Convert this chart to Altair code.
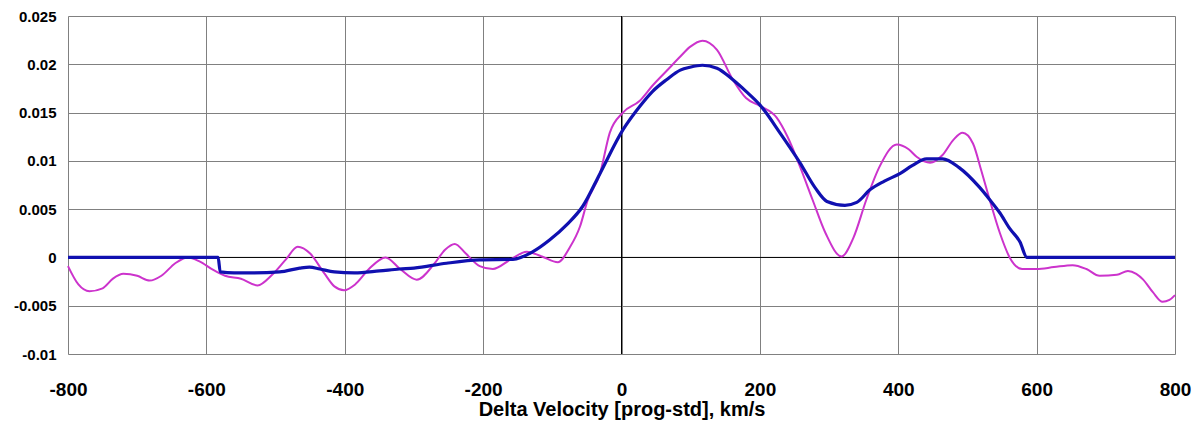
import altair as alt
import pandas as pd

# Magenta (measured) series
mag_x = [-800, -785, -769, -750, -735, -720, -700, -682, -665, -645, -627, -610, -590, -573,
         -550, -526, -505, -485, -468, -450, -430, -415, -401, -385, -365, -341, -320, -296,
         -270, -255, -241, -225, -205, -186, -160, -137, -115, -92, -75, -60, -49, -31, -17,
         2, 26, 45, 65, 85, 99, 117, 138, 161, 180, 200, 224, 240, 258, 276, 295, 318, 335,
         354, 373, 398, 415, 427, 446, 464, 480, 493, 508, 520, 532, 547, 561, 579, 600, 625,
         652, 672, 691, 716, 732, 744, 754, 768, 782, 792, 800]
mag_y = [-0.0009, -0.0028, -0.0035, -0.0032, -0.0022, -0.0017, -0.0019, -0.0024, -0.0019,
         -0.0006, 0.0000, -0.0004, -0.0013, -0.0019, -0.0022, -0.0029, -0.0018, -0.0002,
         0.0011, 0.0004, -0.0016, -0.0030, -0.0034, -0.0028, -0.0012, 0.0000, -0.0012,
         -0.0023, -0.0006, 0.0008, 0.0014, 0.0004, -0.0009, -0.0012, -0.0002, 0.0006,
         0.0001, -0.0005, 0.0010, 0.0032, 0.0059, 0.0087, 0.0129, 0.0150, 0.0162, 0.0178,
         0.0193, 0.0208, 0.0218, 0.02245, 0.0215, 0.0184, 0.0165, 0.0157, 0.0145, 0.0125,
         0.0094, 0.0060, 0.0025, 0.0001, 0.0020, 0.0060, 0.0094, 0.0117, 0.0112, 0.0104,
         0.0098, 0.0106, 0.0122, 0.0129, 0.0118, 0.0090, 0.0060, 0.0025, 0.0000, -0.0012,
         -0.0012, -0.0010, -0.0008, -0.0012, -0.0019, -0.0018, -0.0014, -0.0017, -0.0023,
         -0.0036, -0.0046, -0.0044, -0.0039]

# Blue (fitted) series
blue_x = [-800, -583, -580, -560, -537, -494, -465, -451, -436, -415, -386, -350, -321, -300,
          -253, -205, -157, -128, -104, -79, -56, -31, 2, 26, 45, 65, 85, 99, 117, 138, 161,
          180, 200, 230, 258, 280, 297, 323, 340, 359, 380, 403, 420, 441, 464, 488, 517, 532,
          547, 561, 576, 586, 800]
blue_y = [0.0, 0.0, -0.0015, -0.0016, -0.0016, -0.0015, -0.0011, -0.0010, -0.0012, -0.0015,
          -0.0016, -0.0014, -0.0012, -0.0011, -0.0006, -0.00026, -0.0002, 0.0006, 0.0018,
          0.0034, 0.0053, 0.0087, 0.0132, 0.0156, 0.0172, 0.0184, 0.0194, 0.0197, 0.0199,
          0.0196, 0.0184, 0.0172, 0.0158, 0.0128, 0.0098, 0.0072, 0.0058, 0.0054, 0.0057,
          0.0070, 0.0079, 0.0087, 0.0095, 0.0102, 0.0102, 0.0093, 0.0073, 0.0060, 0.0046,
          0.0030, 0.0016, 0.0, 0.0]

x_ticks = [-800, -600, -400, -200, 0, 200, 400, 600, 800]
y_ticks = [-0.01, -0.005, 0, 0.005, 0.01, 0.015, 0.02, 0.025]

mag = pd.DataFrame({"v": mag_x, "y": mag_y})
blue = pd.DataFrame({"v": blue_x, "y": blue_y})

FONT = "Liberation Sans"

xs = alt.Scale(domain=[-800, 800], nice=False, zero=False)
ys = alt.Scale(domain=[-0.01, 0.025], nice=False, zero=False)

x_axis = alt.Axis(values=x_ticks, title="Delta Velocity [prog-std], km/s",
                  labelExpr="(datum.value < 0 ? '-' : '') + format(abs(datum.value), 'd')",
                  grid=True, gridColor="#808080", gridWidth=1, gridOpacity=1,
                  domain=False, ticks=False, labelFont=FONT, labelFontSize=19,
                  labelFontWeight="bold", labelColor="black", labelBaseline="middle",
                  labelPadding=35, labelFlush=False,
                  titleFont=FONT, titleFontSize=20, titleFontWeight="bold",
                  titleColor="black", titleBaseline="alphabetic", titleY=61)
y_axis = alt.Axis(values=y_ticks, title=None, grid=True, gridColor="#808080", gridWidth=1,
                  gridOpacity=1, domain=False, ticks=False, labelFont=FONT,
                  labelFontSize=15, labelFontWeight="bold", labelColor="black",
                  labelPadding=12,
                  labelExpr="datum.value == 0 ? '0' : (datum.value < 0 ? '-' : '') + format(abs(datum.value), '~g')")

base_axes = alt.Chart(pd.DataFrame({"v": [0], "y": [0]})).mark_point(opacity=0).encode(
    x=alt.X("v:Q", scale=xs, axis=x_axis),
    y=alt.Y("y:Q", scale=ys, axis=y_axis),
)

zero_h = alt.Chart(pd.DataFrame({"y": [0]})).mark_rule(color="black", strokeWidth=1).encode(
    y=alt.Y("y:Q", scale=ys))
zero_v = alt.Chart(pd.DataFrame({"v": [0]})).mark_rule(color="black", strokeWidth=1).encode(
    x=alt.X("v:Q", scale=xs))

mag_line = alt.Chart(mag).mark_line(color="#CC33CC", strokeWidth=2, interpolate="monotone").encode(
    x=alt.X("v:Q", scale=xs), y=alt.Y("y:Q", scale=ys))
blue_line = alt.Chart(blue).mark_line(color="#1010B0", strokeWidth=3.2, interpolate="monotone").encode(
    x=alt.X("v:Q", scale=xs), y=alt.Y("y:Q", scale=ys))

chart = alt.layer(base_axes, zero_h, zero_v, mag_line, blue_line).properties(
    width=1107, height=338,
    autosize=alt.AutoSizeParams(type="none"),
    padding={"left": 60, "top": 8, "right": 21, "bottom": 66},
).configure_view(stroke="black", strokeWidth=2.5).configure(background="white")

chart.save("out.html", embed_options={"renderer": "svg", "actions": False})
